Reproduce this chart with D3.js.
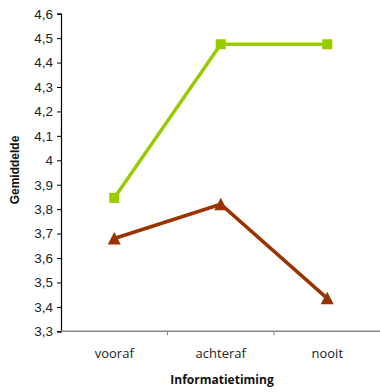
<!DOCTYPE html>
<html>
<head>
<meta charset="utf-8">
<script src="https://cdn.jsdelivr.net/npm/d3@7"></script>
<style>
  html, body { margin: 0; padding: 0; background: #fff; }
  svg { display: block; }
</style>
</head>
<body>
<svg id="chart" width="380" height="392"></svg>
<script>
// Mean scores per moment of information
const categories = ["vooraf", "achteraf", "nooit"];
const seriesGreen = [3.846, 4.475, 4.475];
const seriesRed = [3.68, 3.82, 3.435];
const yTicks = [3.3, 3.4, 3.5, 3.6, 3.7, 3.8, 3.9, 4.0, 4.1, 4.2, 4.3, 4.4, 4.5, 4.6];

const svg = d3.select("#chart");
const plotLeft = 61;
const plotRight = 380.5;
const plotTop = 13.7;
const plotBottom = 331.3;

const x = d3.scaleBand().domain(categories).range([plotLeft, plotRight]);
const y = d3.scaleLinear().domain([3.3, 4.6]).range([plotBottom, plotTop]);

// y axis
const yAxis = d3.axisLeft(y).tickValues(yTicks).tickSize(4).tickPadding(4)
  .tickFormat(d => d3.format(".1f")(d).replace(".0", "").replace(".", ","));
const gy = svg.append("g").attr("transform", `translate(${plotLeft},0)`).call(yAxis);
gy.select(".domain").attr("stroke", "#000").attr("stroke-width", 1.2);
gy.selectAll(".tick line").attr("stroke", "#000");
gy.selectAll(".tick text").attr("font-family", "Liberation Sans, Arial, sans-serif")
  .attr("font-size", 13.5).attr("fill", "#222");

// x axis with ticks at category boundaries
const gx = svg.append("g").attr("transform", `translate(0,${plotBottom})`);
gx.append("line").attr("x1", plotLeft).attr("x2", plotRight)
  .attr("stroke", "#888").attr("stroke-width", 1.5);
categories.slice(1).forEach(c => {
  gx.append("line").attr("x1", x(c)).attr("x2", x(c)).attr("y1", 0).attr("y2", 4)
    .attr("stroke", "#888");
});
gx.selectAll("text.cat").data(categories).enter().append("text")
  .attr("class", "cat")
  .attr("x", d => x(d) + x.bandwidth() / 2)
  .attr("y", 27)
  .attr("text-anchor", "middle")
  .attr("font-family", "Open Sans, sans-serif")
  .attr("font-size", 13)
  .attr("fill", "#222")
  .text(d => d);

// axis titles
svg.append("text")
  .attr("x", 222)
  .attr("y", 384)
  .attr("text-anchor", "middle")
  .attr("font-family", "Open Sans, sans-serif")
  .attr("font-weight", "bold")
  .attr("font-size", 12)
  .attr("fill", "#111")
  .text("Informatietiming");

svg.append("text")
  .attr("transform", "translate(19,170) rotate(-90)")
  .attr("text-anchor", "middle")
  .attr("font-family", "Liberation Sans, Arial, sans-serif")
  .attr("font-weight", "bold")
  .attr("font-size", 12)
  .attr("fill", "#111")
  .text("Gemiddelde");

const cx = d => x(d) + x.bandwidth() / 2;
const line = d3.line().x((d, i) => cx(categories[i])).y(d => y(d));

// green series with squares
svg.append("path").datum(seriesGreen).attr("d", line)
  .attr("fill", "none").attr("stroke", "#99cc00").attr("stroke-width", 3.5);
svg.selectAll("rect.g").data(seriesGreen).enter().append("rect")
  .attr("x", (d, i) => cx(categories[i]) - 5)
  .attr("y", d => y(d) - 5)
  .attr("width", 10).attr("height", 10)
  .attr("fill", "#99cc00");

// red series with triangles (box-centred on the point)
svg.append("path").datum(seriesRed).attr("d", line)
  .attr("fill", "none").attr("stroke", "#993300").attr("stroke-width", 3.5);
svg.selectAll("path.r").data(seriesRed).enter().append("path")
  .attr("class", "r")
  .attr("transform", (d, i) => `translate(${cx(categories[i])},${y(d)})`)
  .attr("d", "M0,-6.5L6.5,6L-6.5,6Z")
  .attr("fill", "#993300");
</script>
</body>
</html>
